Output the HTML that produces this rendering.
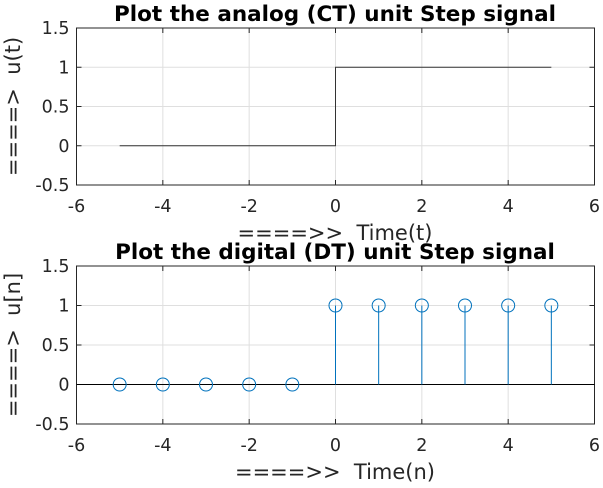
<!DOCTYPE html>
<html><head><meta charset="utf-8"><style>
body{margin:0;background:#fff;}
svg text{font-family:"DejaVu Sans","Liberation Sans",sans-serif;fill:#262626;white-space:pre;}
</style></head><body>
<svg id="chart" width="603" height="483" xmlns="http://www.w3.org/2000/svg"></svg>
<script>
const xTicks=[-6,-4,-2,0,2,4,6];
const yTicks=[-0.5,0,0.5,1,1.5];
const yTickLabels=["-0.5","0","0.5","1","1.5"];
const ctTimes=[-5,0,0,5];
const ctValues=[0,0,1,1];
const dtTimes=[-5,-4,-3,-2,-1,0,1,2,3,4,5];
const dtValues=[0,0,0,0,0,1,1,1,1,1,1];
const svg=document.getElementById('chart');
const NS='http://www.w3.org/2000/svg';
function mk(tag,attrs,parent,name){const e=document.createElementNS(NS,tag);for(const k in attrs)e.setAttribute(k,attrs[k]);


(parent||svg).appendChild(e);return e;}
function axes(top,bottom,title,xlabel,ylabel,prefix){
  const L=76.5,R=594.5;
  const sx=v=>L+(v+6)/12*(R-L);
  const sy=v=>bottom-(v+0.5)/2*(bottom-top);
  const g=mk('g',{},svg,prefix+'-axes');
  xTicks.forEach(t=>{mk('line',{x1:sx(t),x2:sx(t),y1:top,y2:bottom,stroke:'#dfdfdf','stroke-width':1},g,prefix+'-x-grid');
    mk('line',{x1:sx(t),x2:sx(t),y1:bottom,y2:bottom-5,stroke:'#262626'},g,prefix+'-x-tick');
    mk('line',{x1:sx(t),x2:sx(t),y1:top,y2:top+5,stroke:'#262626'},g,prefix+'-x-tick-top');
    const tx=mk('text',{x:sx(t),y:bottom+27,'font-size':17.5,'text-anchor':'middle'},g,prefix+'-x-tick-label');tx.textContent=t;});
  yTicks.forEach((t,i)=>{mk('line',{x1:L,x2:R,y1:sy(t),y2:sy(t),stroke:'#dfdfdf'},g,prefix+'-y-grid');
    mk('line',{x1:L,x2:L+5,y1:sy(t),y2:sy(t),stroke:'#262626'},g,prefix+'-y-tick');
    mk('line',{x1:R,x2:R-5,y1:sy(t),y2:sy(t),stroke:'#262626'},g,prefix+'-y-tick-right');
    const tx=mk('text',{x:L-7,y:sy(t)+6,'font-size':17.5,'text-anchor':'end'},g,prefix+'-y-tick-label');tx.textContent=yTickLabels[i];});
  mk('rect',{x:L,y:top,width:R-L,height:bottom-top,fill:'none',stroke:'#262626'},g,prefix+'-axes-box');
  const t=mk('text',{x:335,y:top-7,'font-size':21.5,'font-weight':'bold','text-anchor':'middle'},g,prefix+'-title');t.textContent=title;t.style.fill='#000';
  const xl=mk('text',{x:335,y:bottom+55,'font-size':21,'text-anchor':'middle'},g,prefix+'-x-axis-title');xl.textContent=xlabel;
  const yl=mk('text',{x:0,y:0,'font-size':21,'text-anchor':'middle',transform:`translate(20,${(top+bottom)/2}) rotate(-90)`},g,prefix+'-y-axis-title');yl.textContent=ylabel;
  return {sx,sy,g};
}
const a1=axes(28,185,'Plot the analog (CT) unit Step signal','====>>  Time(t)','====>  u(t)','ct');
let d='';ctTimes.forEach((t,i)=>{d+=(i?'L':'M')+a1.sx(t)+' '+a1.sy(ctValues[i])+' ';});
mk('path',{d:d,fill:'none',stroke:'#333','stroke-width':1},a1.g,'ct-step-line');
const a2=axes(266,424,'Plot the digital (DT) unit Step signal','====>>  Time(n)','====>  u[n]','dt');
mk('line',{x1:76.5,x2:594.5,y1:a2.sy(0),y2:a2.sy(0),stroke:'#000'},a2.g,'dt-baseline');
dtTimes.forEach((t,i)=>{
  mk('line',{x1:a2.sx(t),x2:a2.sx(t),y1:a2.sy(0),y2:a2.sy(dtValues[i]),stroke:'#0072bd'},a2.g,'dt-stem');
  mk('circle',{cx:a2.sx(t),cy:a2.sy(dtValues[i]),r:6.5,fill:'none',stroke:'#0072bd'},a2.g,'dt-marker');
});
</script>
</body></html>
